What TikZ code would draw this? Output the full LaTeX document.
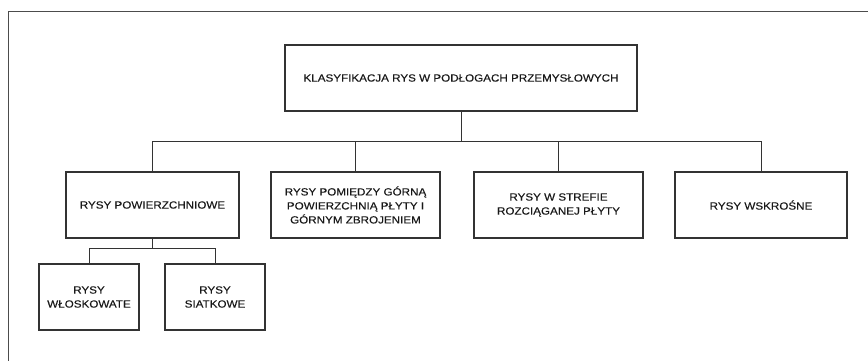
\documentclass[tikz,border=0pt]{standalone}
\usepackage{fontspec}
\setmainfont{Liberation Sans}[FakeStretch=1.12, FakeBold=0.25]
\begin{document}
\begin{tikzpicture}[x=1pt,y=-1pt,
  box/.style={draw=black!80, line width=1.1pt, rectangle, minimum height=66pt,
    align=center, inner sep=2pt, text=black!90,
    font=\fontsize{10.4}{14}\selectfont},
  link/.style={draw=black!80, line width=0.9pt}]
\useasboundingbox (0,0) rectangle (868,361);
\clip (0,0) rectangle (868,361);
\fill[white] (0,0) rectangle (868,361);
\draw[black!70, line width=0.8pt] (8,11) rectangle (900,400);

\node[box, minimum width=352pt] (top) at (461,78) {KLASYFIKACJA RYS W PODŁOGACH PRZEMYSŁOWYCH};
\node[box, minimum width=173pt] (b1) at (152.5,205) {RYSY POWIERZCHNIOWE};
\node[box, minimum width=169pt] (b2) at (355.5,205) {RYSY POMIĘDZY GÓRNĄ\\POWIERZCHNIĄ PŁYTY I\\GÓRNYM ZBROJENIEM};
\node[box, minimum width=169pt] (b3) at (558.5,205) {RYSY W STREFIE\\ROZCIĄGANEJ PŁYTY};
\node[box, minimum width=172pt] (b4) at (761,205) {RYSY WSKROŚNE};
\node[box, minimum width=100pt] (b5) at (89,297) {RYSY\\WŁOSKOWATE};
\node[box, minimum width=100pt] (b6) at (215,297) {RYSY\\SIATKOWE};

\coordinate (bus) at (0,141);
\coordinate (sbus) at (0,248);
\draw[link] (top.south) -- (top.south |- bus);
\draw[link] (b1.north) -- (b1.north |- bus) -- (b4.north |- bus) -- (b4.north);
\draw[link] (b2.north) -- (b2.north |- bus);
\draw[link] (b3.north) -- (b3.north |- bus);
\draw[link] (b1.south) -- (b1.south |- sbus);
\draw[link] (b5.north) -- (b5.north |- sbus) -- (b6.north |- sbus) -- (b6.north);
\end{tikzpicture}
\end{document}
